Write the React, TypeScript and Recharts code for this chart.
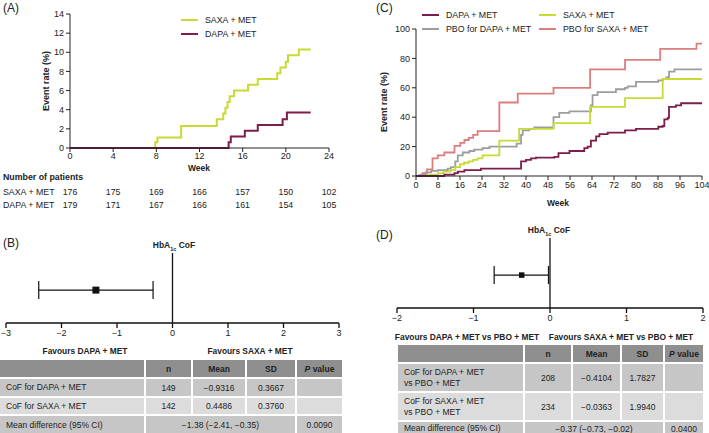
import React from 'react';
import {
  LineChart,
  Line,
  XAxis,
  YAxis,
  ScatterChart,
  Scatter,
  ErrorBar,
  ReferenceLine,
} from 'recharts';

// colours
const DAPA = '#7c1d4c';
const SAXA = '#c8da34';
const PBO_DAPA = '#9c9e9e';
const PBO_SAXA = '#dc7d7e';
const FONT = '"Liberation Sans", Arial, Helvetica, sans-serif';

// (A) weeks / event rate (%)
const saxaWeeksA = [0, 7.9, 8.1, 10.3, 13.6, 14.2, 14.4, 14.6, 14.8, 15.2, 16.5, 17.4, 19.2, 19.5, 20.0, 20.2, 21.2, 22.3];
const saxaRateA = [0, 0.6, 1.1, 2.3, 3.0, 3.6, 4.2, 4.8, 5.4, 6.0, 6.6, 7.2, 7.8, 8.4, 9.0, 9.7, 10.3, 10.3];
const dapaWeeksA = [0, 14.7, 14.9, 16.2, 17.4, 19.7, 20.1, 22.3];
const dapaRateA = [0, 0.6, 1.2, 1.8, 2.4, 3.0, 3.7, 3.7];
const weekTicksA = [0, 4, 8, 12, 16, 20, 24];
const rateTicksA = [0, 2, 4, 6, 8, 10, 12, 14];

// number of patients at risk
const saxaAtRisk = [176, 175, 169, 166, 157, 150, 102];
const dapaAtRisk = [179, 171, 167, 166, 161, 154, 105];

// (C)
const dapaWeeksC = [0, 10.3, 14, 15.2, 17.6, 23.6, 38.2, 40, 41.8, 43.6, 50.3, 51.8, 55.8, 61.2, 62.4, 63.6, 65.5, 66.7, 69.7, 76, 80, 88.1, 89.7, 90.3, 91.5, 92, 94.5, 96.4, 104];
const dapaRateC = [0, 1, 2, 3, 4, 5, 10, 11, 12, 12.5, 13, 15.5, 17, 19, 20, 24, 27, 28.5, 29.5, 31, 32, 33.5, 34, 38.5, 39.5, 47, 48, 49.5, 49.5];
const saxaWeeksC = [0, 4, 5, 8, 10, 12.5, 14.3, 16, 17.5, 19.2, 20.8, 22.4, 24.2, 30.3, 37.5, 50, 63.3, 76, 89.7, 104];
const saxaRateC = [0, 0.5, 1, 2, 3, 4, 6, 8, 9, 10, 11, 12, 14, 24, 32, 36, 47, 53, 66, 66];
const pboDapaWeeksC = [0, 1.8, 3.6, 5.5, 8, 11.5, 12.7, 14.3, 15.2, 17, 19.4, 21.2, 24.2, 26.7, 36.6, 38.2, 38.8, 41.2, 43, 50, 52.1, 55.8, 63.6, 64.2, 66, 72.7, 76, 77, 80, 88.1, 89.7, 91, 92, 94, 104];
const pboDapaRateC = [0, 1, 2.5, 3.5, 4, 5, 6, 10, 14, 16, 17, 18, 19, 20, 22, 28, 31, 32, 33, 40, 43, 44, 48, 55, 57, 59, 60, 61, 64, 65, 66, 67, 71, 72.5, 72.5];
const pboSaxaWeeksC = [0, 1.2, 2.4, 4, 6, 7.9, 10.3, 14, 16.1, 17.6, 19.2, 20.8, 22.4, 30.3, 37, 50, 63.3, 76, 88.8, 102, 104];
const pboSaxaRateC = [0, 0.5, 2, 4.5, 12, 14, 16, 20.5, 22.5, 24.5, 26, 28, 30.5, 50, 56, 60, 72.5, 79, 86.5, 90, 90];
const weekTicksC = [0, 8, 16, 24, 32, 40, 48, 56, 64, 72, 80, 88, 96, 104];
const rateTicksC = [0, 20, 40, 60, 80, 100];

// (B) and (D) forest: mean difference with 95% CI
const diffB = { mean: -1.38, low: -2.41, high: -0.35 };
const diffD = { mean: -0.37, low: -0.73, high: -0.02 };
const ticksB = [-3, -2, -1, 0, 1, 2, 3];
const ticksD = [-2, -1, 0, 1, 2];

const tableHead = ['', 'n', 'Mean', 'SD', 'P value'];
const rowsB = [
  ['CoF for DAPA + MET', '149', '−0.9316', '0.3667', ''],
  ['CoF for SAXA + MET', '142', '0.4486', '0.3760', ''],
];
const diffRowB = ['Mean difference (95% CI)', '−1.38 (−2.41, −0.35)', '0.0090'];
const rowsD = [
  ['CoF for DAPA + MET\nvs PBO + MET', '208', '−0.4104', '1.7827', ''],
  ['CoF for SAXA + MET\nvs PBO + MET', '234', '−0.0363', '1.9940', ''],
];
const diffRowD = ['Mean difference (95% CI)', '−0.37 (−0.73, −0.02)', '0.0400'];

const zip = (ws: number[], vs: number[]) => ws.map((w, i) => ({ w, v: vs[i] }));
const minus = (v: number) => (v < 0 ? `−${Math.abs(v)}` : `${v}`);

const tickStyle = { fontSize: 9, fill: '#222', fontFamily: FONT };
const axisLine = { stroke: '#222', strokeWidth: 1 };

function T({ x, y, size = 8.8, bold = false, anchor = 'start', color = '#222', children }: any) {
  const tx = anchor === 'middle' ? '-50%' : anchor === 'end' ? '-100%' : '0';
  return (
    <div
      style={{
        position: 'absolute',
        left: x,
        top: y,
        transform: `translate(${tx}, -50%)`,
        fontSize: size,
        fontWeight: bold ? 'bold' : 'normal',
        color,
        whiteSpace: 'nowrap',
        lineHeight: 1,
      }}
    >
      {children}
    </div>
  );
}

function LegendItem({ x, y, color, label }: any) {
  return (
    <>
      <div style={{ position: 'absolute', left: x, top: y - 1, width: 17, height: 2, background: color }} />
      <T x={x + 24} y={y}>{label}</T>
    </>
  );
}

function Square(props: any) {
  const s = props.size ?? 7;
  return <rect x={props.cx - s / 2} y={props.cy - s / 2} width={s} height={s} fill="#111" />;
}

function Forest({ left, top, width, height, margin, diff, ticks, square }: any) {
  const data = [{ x: diff.mean, y: 0.47, err: [diff.mean - diff.low, diff.high - diff.mean] }];
  return (
    <div style={{ position: 'absolute', left, top }}>
      <ScatterChart width={width} height={height} margin={margin}>
        <XAxis
          type="number"
          dataKey="x"
          domain={[ticks[0], ticks[ticks.length - 1]]}
          ticks={ticks}
          tickFormatter={minus}
          tick={tickStyle}
          axisLine={{ stroke: '#111', strokeWidth: 1.3 }}
          tickLine={{ stroke: '#111', strokeWidth: 1.3 }}
          tickSize={5}
          height={20}
        />
        <YAxis type="number" dataKey="y" domain={[0, 1]} hide />
        <ReferenceLine x={0} stroke="#111" strokeWidth={1.3} />
        <Scatter data={data} isAnimationActive={false} shape={(p: any) => <Square {...p} size={square} />}>
          <ErrorBar dataKey="err" direction="x" width={9} stroke="#111" strokeWidth={1.2} isAnimationActive={false} />
        </Scatter>
      </ScatterChart>
    </div>
  );
}

function Table({ left, top, cols, rows, data, diffRow }: any) {
  const cell = (bg: string, extra: any = {}) => ({
    background: bg,
    display: 'flex',
    alignItems: 'center',
    justifyContent: 'center',
    fontSize: 8.5,
    color: '#222',
    overflow: 'hidden',
    ...extra,
  });
  const first = { justifyContent: 'flex-start', paddingLeft: 6, whiteSpace: 'pre-line', lineHeight: 1.25 };
  const shades = ['#c6c6c6', '#dcdcdc'];
  return (
    <div
      style={{
        position: 'absolute',
        left,
        top,
        display: 'grid',
        gridTemplateColumns: cols.map((c: number) => `${c}px`).join(' '),
        gridTemplateRows: rows.map((r: number) => `${r}px`).join(' '),
        gap: 2,
      }}
    >
      {tableHead.map((h, i) => (
        <div key={'h' + i} style={cell('#8f8f8f', { fontWeight: 'bold' })}>
          {h === 'P value' ? (
            <span>
              <i>P</i> value
            </span>
          ) : (
            h
          )}
        </div>
      ))}
      {data.map((r: string[], ri: number) =>
        r.map((c, ci) => (
          <div key={`r${ri}c${ci}`} style={cell(shades[ri], ci === 0 ? first : {})}>
            {c}
          </div>
        )),
      )}
      <div style={cell('#c6c6c6', first)}>{diffRow[0]}</div>
      <div style={cell('#c6c6c6', { gridColumn: 'span 3' })}>{diffRow[1]}</div>
      <div style={cell('#c6c6c6')}>{diffRow[2]}</div>
    </div>
  );
}

const HbA = ({ x, y }: any) => (
  <T x={x} y={y} bold anchor="middle" size={8.5}>
    HbA<sub style={{ fontSize: 5.5 }}>1c</sub> CoF
  </T>
);

export default function App() {
  const xA = (w: number) => 70 + (w / 24) * 259;
  return (
    <div
      style={{
        position: 'absolute',
        left: 0,
        top: 0,
        width: 709,
        height: 433,
        overflow: 'hidden',
        background: '#fff',
        fontFamily: FONT,
      }}
    >
      {/* (A) */}
      <T x={3} y={8} size={12}>(A)</T>
      <div style={{ position: 'absolute', left: 0, top: 0 }}>
        <LineChart width={354} height={180} margin={{ top: 14, right: 25, bottom: 12, left: 40 }}>
          <XAxis
            type="number"
            dataKey="w"
            domain={[0, 24]}
            ticks={weekTicksA}
            tick={tickStyle}
            axisLine={axisLine}
            tickLine={axisLine}
            tickSize={4}
            tickMargin={1}
            height={20}
            allowDataOverflow
          />
          <YAxis
            type="number"
            domain={[0, 14]}
            ticks={rateTicksA}
            tick={tickStyle}
            axisLine={axisLine}
            tickLine={axisLine}
            tickSize={4}
            tickMargin={2}
            width={30}
          />
          <Line data={zip(saxaWeeksA, saxaRateA)} dataKey="v" type="stepAfter" stroke={SAXA} strokeWidth={2} dot={false} isAnimationActive={false} />
          <Line data={zip(dapaWeeksA, dapaRateA)} dataKey="v" type="stepAfter" stroke={DAPA} strokeWidth={2} dot={false} isAnimationActive={false} />
        </LineChart>
      </div>
      <div style={{ position: 'absolute', left: 46, top: 81, transform: 'translate(-50%, -50%) rotate(-90deg)', fontSize: 9, fontWeight: 'bold', whiteSpace: 'nowrap', color: '#222' }}>
        Event rate (%)
      </div>
      <T x={199} y={168} bold anchor="middle" size={8.5}>Week</T>
      <LegendItem x={181} y={20} color={SAXA} label="SAXA + MET" />
      <LegendItem x={181} y={34} color={DAPA} label="DAPA + MET" />

      <T x={3} y={177} bold size={8.8}>Number of patients</T>
      <T x={3} y={192} size={8.8}>SAXA + MET</T>
      <T x={3} y={205} size={8.8}>DAPA + MET</T>
      {weekTicksA.map((w, i) => (
        <React.Fragment key={w}>
          <T x={xA(w)} y={192} anchor="middle" size={8.8}>{saxaAtRisk[i]}</T>
          <T x={xA(w)} y={205} anchor="middle" size={8.8}>{dapaAtRisk[i]}</T>
        </React.Fragment>
      ))}

      {/* (B) */}
      <T x={3} y={243} size={12}>(B)</T>
      <HbA x={174} y={247} />
      <Forest
        left={0}
        top={240}
        width={354}
        height={110}
        margin={{ top: 13, right: 15, bottom: 7, left: 6 }}
        diff={diffB}
        ticks={ticksB}
        square={7}
      />
      <T x={85} y={351} bold anchor="middle" size={8.4}>Favours DAPA + MET</T>
      <T x={250} y={351} bold anchor="middle" size={8.4}>Favours SAXA + MET</T>
      <Table left={0} top={360} cols={[144, 45, 52, 48, 45]} rows={[17, 17, 16, 18]} data={rowsB} diffRow={diffRowB} />

      {/* (C) */}
      <T x={376} y={8} size={12}>(C)</T>
      <div style={{ position: 'absolute', left: 354, top: 0 }}>
        <LineChart width={355} height={215} margin={{ top: 29, right: 7, bottom: 19, left: 32 }}>
          <XAxis
            type="number"
            dataKey="w"
            domain={[0, 104]}
            ticks={weekTicksC}
            tick={tickStyle}
            axisLine={axisLine}
            tickLine={axisLine}
            tickSize={4}
            tickMargin={2}
            height={20}
            allowDataOverflow
          />
          <YAxis
            type="number"
            domain={[0, 100]}
            ticks={rateTicksC}
            tick={tickStyle}
            axisLine={axisLine}
            tickLine={axisLine}
            tickSize={4}
            tickMargin={2}
            width={30}
          />
          <Line data={zip(pboSaxaWeeksC, pboSaxaRateC)} dataKey="v" type="stepAfter" stroke={PBO_SAXA} strokeWidth={1.8} dot={false} isAnimationActive={false} />
          <Line data={zip(pboDapaWeeksC, pboDapaRateC)} dataKey="v" type="stepAfter" stroke={PBO_DAPA} strokeWidth={1.8} dot={false} isAnimationActive={false} />
          <Line data={zip(saxaWeeksC, saxaRateC)} dataKey="v" type="stepAfter" stroke={SAXA} strokeWidth={1.8} dot={false} isAnimationActive={false} />
          <Line data={zip(dapaWeeksC, dapaRateC)} dataKey="v" type="stepAfter" stroke={DAPA} strokeWidth={1.8} dot={false} isAnimationActive={false} />
        </LineChart>
      </div>
      <div style={{ position: 'absolute', left: 384, top: 102, transform: 'translate(-50%, -50%) rotate(-90deg)', fontSize: 9, fontWeight: 'bold', whiteSpace: 'nowrap', color: '#222' }}>
        Event rate (%)
      </div>
      <T x={558} y={203} bold anchor="middle" size={8.5}>Week</T>
      <LegendItem x={422} y={15} color={DAPA} label="DAPA + MET" />
      <LegendItem x={539} y={15} color={SAXA} label="SAXA + MET" />
      <LegendItem x={422} y={29} color={PBO_DAPA} label="PBO for DAPA + MET" />
      <LegendItem x={539} y={29} color={PBO_SAXA} label="PBO for SAXA + MET" />

      {/* (D) */}
      <T x={376} y={235} size={12}>(D)</T>
      <HbA x={549} y={232} />
      <Forest
        left={354}
        top={225}
        width={355}
        height={110}
        margin={{ top: 13, right: 6, bottom: 7, left: 43 }}
        diff={diffD}
        ticks={ticksD}
        square={5.5}
      />
      <T x={467} y={337} bold anchor="middle" size={8.4}>Favours DAPA + MET vs PBO + MET</T>
      <T x={621} y={337} bold anchor="middle" size={8.4}>Favours SAXA + MET vs PBO + MET</T>
      <Table left={398} top={345} cols={[125, 46, 47, 41, 38]} rows={[17, 27, 27, 13]} data={rowsD} diffRow={diffRowD} />
    </div>
  );
}
